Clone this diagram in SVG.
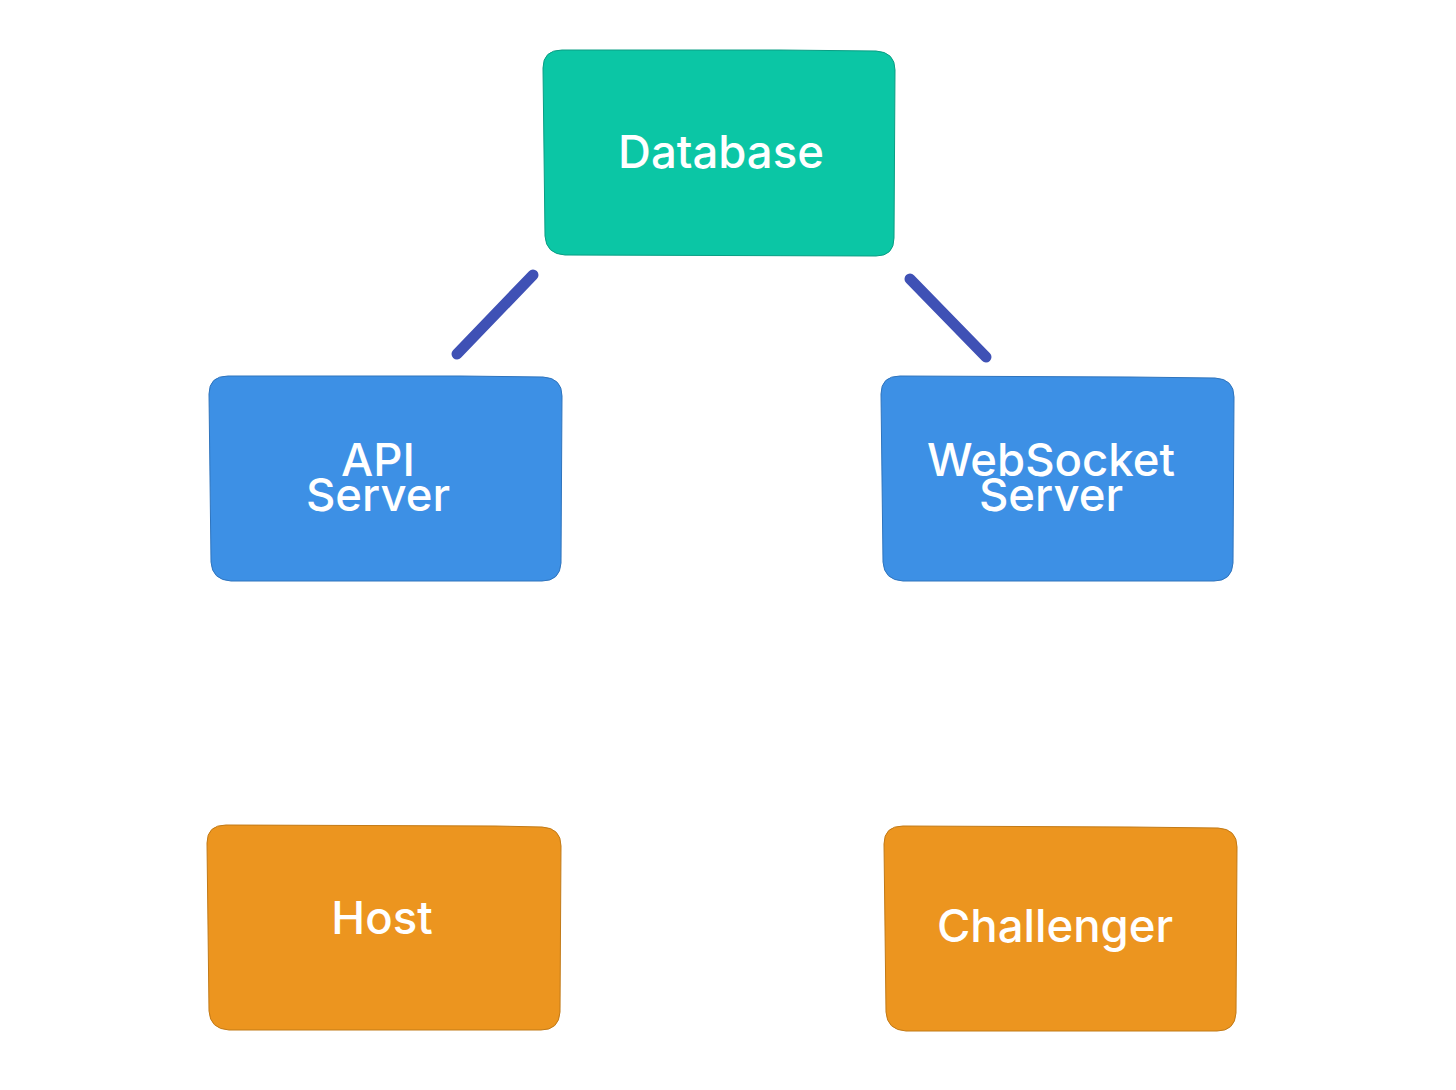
<svg xmlns="http://www.w3.org/2000/svg" width="1456" height="1090" viewBox="0 0 1456 1090">
<style>
.box{stroke-width:1}
.g{fill:#0BC6A5;stroke:#0a9e84}
.b{fill:#3D90E5;stroke:#2f74bd}
.o{fill:#EC951F;stroke:#c27a17}
.t{font-family:Inter,"Liberation Sans",sans-serif;font-size:45.5px;font-weight:500;fill:#ffffff;text-anchor:middle}
.c{stroke:#3F51B5;stroke-width:11;stroke-linecap:round;fill:none}
</style>
<rect width="1456" height="1090" fill="#ffffff"/>
<g id="connectors">
<line class="c" x1="533" y1="275" x2="457" y2="354"/>
<line class="c" x1="910" y1="279" x2="986" y2="357"/>
</g>
<g id="database">
<path class="box g" d="M562,50 L780,50 L876,51 Q895,52 895,70 L894,238 Q894,256 876,256 L565,255 Q546,254 545,236 L543,68 Q543,50 562,50 Z"/>
<text class="t" x="721" y="168">Database</text>
</g>
<g id="api-server">
<path class="box b" d="M228,376 L460,376 L543,377 Q562,378 562,396 L561,563 Q560,581 542,581 L231,581 Q212,580 211,562 L209,394 Q209,376 228,376 Z"/>
<text class="t" x="378" y="476">API</text>
<text class="t" x="378" y="511">Server</text>
</g>
<g id="websocket-server">
<path class="box b" d="M900,376 L1130,377 L1215,378 Q1234,379 1234,397 L1233,563 Q1232,581 1214,581 L903,581 Q884,580 883,562 L881,394 Q881,376 900,376 Z"/>
<text class="t" x="1051" y="476">WebSocket</text>
<text class="t" x="1051" y="511">Server</text>
</g>
<g id="host">
<path class="box o" d="M226,825 L495,826 L542,827 Q561,828 561,846 L560,1012 Q559,1030 541,1030 L229,1030 Q210,1029 209,1011 L207,843 Q207,825 226,825 Z"/>
<text class="t" x="382" y="934">Host</text>
</g>
<g id="challenger">
<path class="box o" d="M903,826 L1130,827 L1218,828 Q1237,829 1237,847 L1236,1013 Q1235,1031 1217,1031 L906,1031 Q887,1030 886,1012 L884,844 Q884,826 903,826 Z"/>
<text class="t" x="1055" y="942">Challenger</text>
</g>
</svg>
